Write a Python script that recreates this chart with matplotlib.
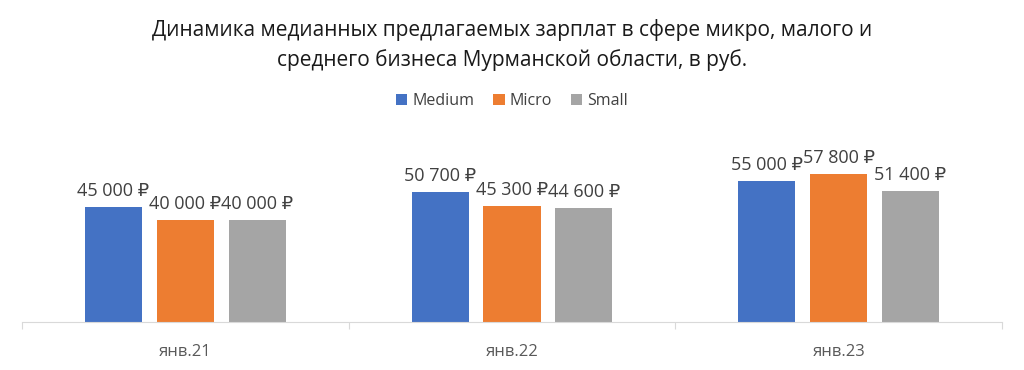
import numpy as np
import matplotlib.pyplot as plt

categories = ['янв.21', 'янв.22', 'янв.23']
series_names = ['Medium', 'Micro', 'Small']
medium = [45000, 50700, 55000]
micro = [40000, 45300, 57800]
small = [40000, 44600, 51400]
colors = ['#4472C4', '#ED7D31', '#A5A5A5']

plt.rcParams['font.family'] = ['Open Sans', 'DejaVu Sans']


def rub(v):
    return f'{v:,.0f}'.replace(',', ' ') + ' ₽'


fig = plt.figure(figsize=(10.24, 3.7), dpi=100)
ax = fig.add_axes([0.0215, 0.1297, 0.957, 0.4838])

x = np.arange(len(categories))
width = 0.175
offsets = [-0.22, 0.0, 0.22]
for vals, name, c, off in zip([medium, micro, small], series_names, colors, offsets):
    bars = ax.bar(x + off, vals, width, color=c, label=name)
    for b, v in zip(bars, vals):
        ax.annotate(rub(v), (b.get_x() + b.get_width() / 2, v),
                    xytext=(0, 5), textcoords='offset points',
                    ha='center', va='bottom', fontsize=13, color='#404040')

ax.set_xlim(-0.5, 2.5)
ax.set_ylim(0, 70000)
ax.set_yticks([])
for s in ['top', 'right', 'left']:
    ax.spines[s].set_visible(False)
ax.spines['bottom'].set_color('#D9D9D9')
ax.set_xticks([-0.5, 0.5, 1.5, 2.5])
ax.set_xticklabels([])
ax.set_xticks(x, minor=True)
ax.set_xticklabels(categories, minor=True, fontsize=12, color='#595959')
ax.tick_params(axis='x', which='major', length=5, color='#D9D9D9')
ax.tick_params(axis='x', which='minor', length=0, pad=16)

fig.text(0.5, 0.878, 'Динамика медианных предлагаемых зарплат в сфере микро, малого и\nсреднего бизнеса Мурманской области, в руб.',
         ha='center', va='center', fontsize=15, fontweight='medium',
         color='#1a1a1a', linespacing=1.45)
fig.legend(loc='center', bbox_to_anchor=(0.5, 0.727), ncol=3, frameon=False,
           fontsize=11.5, handlelength=0.7, handleheight=0.7, handletextpad=0.3,
           columnspacing=1.2, labelcolor='#404040')

fig.savefig('out.png', dpi=100)
